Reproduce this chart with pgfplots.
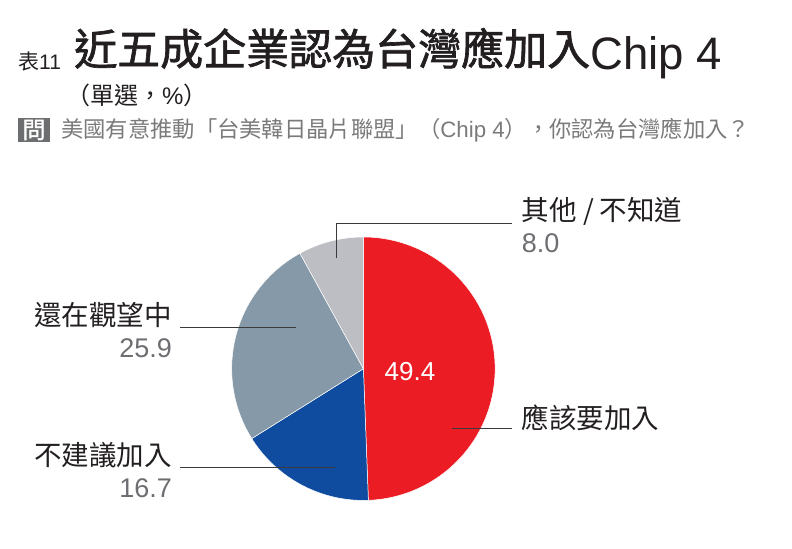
\documentclass[border=0pt]{standalone}
\usepackage{pgfplots}
\pgfplotsset{compat=1.18}
\usepackage{fontspec}
\setmainfont{Liberation Sans}
\newfontfamily\cjk{Noto Sans CJK TC}
\newfontfamily\cjkt[FakeBold=1.6]{Noto Sans CJK TC}
\newfontfamily\lat{Liberation Sans}
\definecolor{pieRed}{HTML}{EC1C24}
\definecolor{pieBlue}{HTML}{0F4C9F}
\definecolor{pieGrayBlue}{HTML}{8599A8}
\definecolor{pieLight}{HTML}{BCBEC3}
\definecolor{txtBlack}{HTML}{231F20}
\definecolor{numGray}{HTML}{6D6E71}
\definecolor{qGray}{HTML}{7A7A7A}
\definecolor{qBox}{HTML}{6D6E70}
\definecolor{leader}{HTML}{3A3A3A}
% survey values (%)
\def\vA{49.4}% 應該要加入
\def\vB{16.7}% 不建議加入
\def\vC{25.9}% 還在觀望中
\def\vD{8.0}%  其他 / 不知道
\def\cx{363.4}\def\cy{368.7}\def\pr{131.7}
\pgfmathsetmacro\aA{90-3.6*\vA}
\pgfmathsetmacro\aB{\aA-3.6*\vB}
\pgfmathsetmacro\aC{\aB-3.6*\vC}
\pgfmathsetmacro\aD{\aC-3.6*\vD}
\begin{document}
\begin{tikzpicture}
\useasboundingbox (0,0) rectangle (792bp,549bp);
\begin{axis}[width=792bp,height=549bp,scale only axis,
  xmin=0,xmax=792,ymin=0,ymax=549,y dir=reverse,
  hide axis,clip=false]
% pie sectors
\addplot[fill=pieRed, draw=white, line width=0.5bp, domain=\aA:90, samples=150, variable=\t]
  ({\cx+\pr*cos(\t)},{\cy-\pr*sin(\t)}) -- (axis cs:\cx,\cy) -- cycle;
\addplot[fill=pieBlue, draw=white, line width=0.5bp, domain=\aB:\aA, samples=80, variable=\t]
  ({\cx+\pr*cos(\t)},{\cy-\pr*sin(\t)}) -- (axis cs:\cx,\cy) -- cycle;
\addplot[fill=pieGrayBlue, draw=white, line width=0.5bp, domain=\aC:\aB, samples=100, variable=\t]
  ({\cx+\pr*cos(\t)},{\cy-\pr*sin(\t)}) -- (axis cs:\cx,\cy) -- cycle;
\addplot[fill=pieLight, draw=white, line width=0.5bp, domain=\aD:\aC, samples=40, variable=\t]
  ({\cx+\pr*cos(\t)},{\cy-\pr*sin(\t)}) -- (axis cs:\cx,\cy) -- cycle;
% leader lines
\addplot[leader, line width=0.9bp] coordinates {(336.7,258.3) (336.7,223.3) (511.7,223.3)};
\addplot[leader, line width=0.9bp] coordinates {(451.7,428.3) (511.7,428.3)};
\addplot[leader, line width=0.9bp] coordinates {(180,327.7) (296,327.7)};
\addplot[leader, line width=0.9bp] coordinates {(180,467.7) (335,467.7)};
% labels
\node[anchor=center, text=white, inner sep=0] at (axis cs:410,372)
  {\lat\fontsize{26bp}{30bp}\selectfont 49.4};
\node[anchor=base west, text=txtBlack, inner sep=0] at (axis cs:521.7,220.5)
  {\cjk\fontsize{27.5bp}{32bp}\selectfont 其他 / 不知道};
\node[anchor=base west, text=numGray, inner sep=0] at (axis cs:521.7,252)
  {\lat\fontsize{27bp}{32bp}\selectfont 8.0};
\node[anchor=base west, text=txtBlack, inner sep=0] at (axis cs:521.7,428.5)
  {\cjk\fontsize{27.5bp}{32bp}\selectfont 應該要加入};
\node[anchor=base east, text=txtBlack, inner sep=0] at (axis cs:172,325.5)
  {\cjk\fontsize{27.5bp}{32bp}\selectfont 還在觀望中};
\node[anchor=base east, text=numGray, inner sep=0] at (axis cs:172,357)
  {\lat\fontsize{27bp}{32bp}\selectfont 25.9};
\node[anchor=base east, text=txtBlack, inner sep=0] at (axis cs:172,465.5)
  {\cjk\fontsize{27.5bp}{32bp}\selectfont 不建議加入};
\node[anchor=base east, text=numGray, inner sep=0] at (axis cs:172,497)
  {\lat\fontsize{27bp}{32bp}\selectfont 16.7};
% title block
\node[anchor=base west, text=txtBlack, inner sep=0] at (axis cs:18,70)
  {\cjk\fontsize{21bp}{24bp}\selectfont 表{\lat 11}};
\node[anchor=base west, text=txtBlack, inner sep=0] at (axis cs:74,65)
  {\cjkt\fontsize{43bp}{48bp}\selectfont 近五成企業認為台灣應加入\raisebox{-5bp}{\lat\fontsize{45.5bp}{50bp}\selectfont Chip 4}};
\node[anchor=base west, text=txtBlack, inner sep=0] at (axis cs:66,105)
  {\cjk\fontsize{24bp}{28bp}\selectfont （單選，{\lat\%}）};
\fill[qBox] (axis cs:18,118) rectangle (axis cs:50,142);
\node[anchor=center, text=white, inner sep=0] at (axis cs:34,130)
  {\cjkt\fontsize{23bp}{26bp}\selectfont 問};
\node[anchor=base west, text=qGray, inner sep=0] at (axis cs:61,137.5)
  {\cjk\fontsize{22.3bp}{26bp}\selectfont 美國有意推動「台美韓日晶片聯盟」（{\lat Chip 4}），你認為台灣應加入？};
\end{axis}
\end{tikzpicture}
\end{document}
